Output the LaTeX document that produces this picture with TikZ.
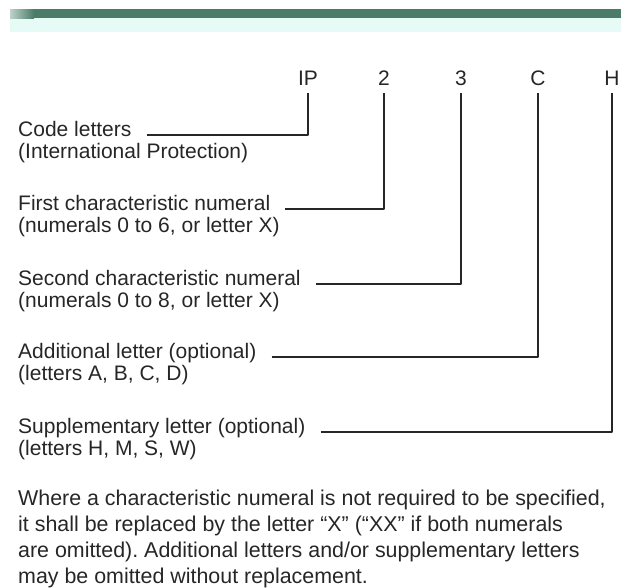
\documentclass[tikz,border=0pt]{standalone}
\usepackage{fontspec}
\setmainfont{Liberation Sans}
\definecolor{barcol}{HTML}{4A7C68}
\definecolor{tintcol}{HTML}{E6FBF6}
\definecolor{inkcol}{HTML}{262626}
\frenchspacing
\begin{document}
\begin{tikzpicture}[x=1pt, y=-1pt, font=\fontsize{21}{26}\selectfont, line join=round,
  txt/.style={inner sep=0pt, anchor=base west, text=inkcol},
  code/.style={inner sep=0pt, anchor=base, text=inkcol},
  lead/.style={draw=inkcol, line width=1.6pt}]
\useasboundingbox (0,0) rectangle (621,587);
% header bar
\fill[tintcol] (10,18) rectangle (621,32);
\shade[left color=barcol!35, right color=barcol] (10,9) rectangle (34,18);
\fill[barcol] (34,9) rectangle (621,18);
% code letters
\node[code] (ip) at (308,85) {IP};
\node[code] (first) at (384,85) {2};
\node[code] (second) at (461,85) {3};
\node[code] (addl) at (538,85) {C};
\node[code] (suppl) at (612,85) {H};
% explanations, each led to its letter
\foreach \nm/\yb/\la/\lb/\tip in {
    codel/136/{Code letters}/{(International Protection)}/ip,
    firstl/210/{First characteristic numeral}/{(numerals 0 to 6, or letter X)}/first,
    secondl/285/{Second characteristic numeral}/{(numerals 0 to 8, or letter X)}/second,
    addll/358/{Additional letter (optional)}/{(letters A, B, C, D)}/addl,
    suppll/433/{Supplementary letter (optional)}/{(letters H, M, S, W)}/suppl}
{
  \node[txt] (\nm) at (18,\yb) {\la};
  \node[txt] (\nm-2) at (18,\yb+22) {\lb};
  \draw[lead] ([xshift=15pt,yshift=1pt]\nm.base east) -| ([yshift=-8pt]\tip.south);
}
% note
\foreach \ln [count=\i] in {
    {Where a characteristic numeral is not required to be specified,},
    {it shall be replaced by the letter ``X'' (``XX'' if both numerals},
    {are omitted). Additional letters and/or supplementary letters},
    {may be omitted without replacement.}}
  \node[txt, font=\fontsize{21.4}{26}\selectfont] (note\i) at (18,479+26*\i) {\ln};
\end{tikzpicture}
\end{document}
